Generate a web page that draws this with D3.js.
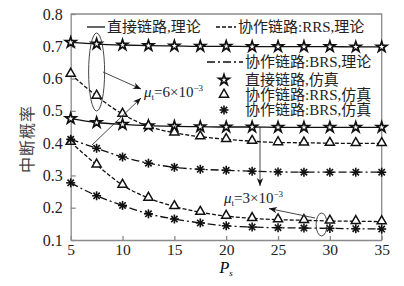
<!DOCTYPE html>
<html>
<head>
<meta charset="utf-8">
<script src="https://cdn.jsdelivr.net/npm/d3@7"></script>
<style>
  html, body { margin: 0; padding: 0; background: #fff; }
  svg, svg text { font-family: "Liberation Serif", "Times New Roman", "DejaVu Serif", "Noto Sans CJK SC", serif; }
</style>
</head>
<body>
<svg id="chart"></svg>
<script>
// 数据
const ps = [5, 7.5, 10, 12.5, 15, 17.5, 20, 22.5, 25, 27.5, 30, 32.5, 35];
const direct6 = [0.712, 0.707, 0.704, 0.702, 0.701, 0.700, 0.700, 0.699, 0.699, 0.699, 0.699, 0.698, 0.698];
const direct3 = [0.476, 0.464, 0.458, 0.454, 0.452, 0.451, 0.450, 0.450, 0.449, 0.449, 0.449, 0.449, 0.449];
const rrs6 = [0.614, 0.546, 0.490, 0.452, 0.432, 0.420, 0.412, 0.406, 0.402, 0.401, 0.400, 0.399, 0.399];
const brs6 = [0.412, 0.384, 0.357, 0.338, 0.325, 0.319, 0.316, 0.313, 0.311, 0.310, 0.310, 0.310, 0.310];
const rrs3 = [0.403, 0.333, 0.270, 0.230, 0.204, 0.186, 0.174, 0.167, 0.163, 0.161, 0.159, 0.158, 0.157];
const brs3 = [0.277, 0.237, 0.207, 0.181, 0.165, 0.153, 0.144, 0.140, 0.138, 0.137, 0.136, 0.135, 0.134];
const xTicks = [5, 10, 15, 20, 25, 30, 35];
const yTicks = [0.1, 0.2, 0.3, 0.4, 0.5, 0.6, 0.7, 0.8];

const width = 404, height = 286;
const marginLeft = 70.7, marginRight = 22.3, marginTop = 14, marginBottom = 46;
const font = '"Liberation Serif", "Times New Roman", "DejaVu Serif", "Noto Sans CJK SC", serif';

const x = d3.scaleLinear().domain([5, 35]).range([marginLeft, width - marginRight]);
const y = d3.scaleLinear().domain([0.1, 0.8]).range([height - marginBottom, marginTop]);

const svg = d3.select("#chart")
  .attr("width", width)
  .attr("height", height)
  .attr("viewBox", [0, 0, width, height]);

const axisColor = "#8a8a8a";

// 坐标轴
svg.append("g")
  .attr("transform", `translate(0,${height - marginBottom})`)
  .call(d3.axisBottom(x).tickValues(xTicks).tickFormat(d3.format("d")).tickSizeInner(-4).tickSizeOuter(0).tickPadding(4))
  .attr("font-family", font)
  .call(g => g.selectAll("line, path").attr("stroke", axisColor).attr("stroke-width", 1.3))
  .call(g => g.selectAll("text").attr("font-size", 15.5).attr("fill", "#222"));

svg.append("g")
  .attr("transform", `translate(${marginLeft},0)`)
  .call(d3.axisLeft(y).tickValues(yTicks).tickFormat(d3.format(".1f")).tickSizeInner(-5).tickSizeOuter(0).tickPadding(8))
  .attr("font-family", font)
  .call(g => g.selectAll("line, path").attr("stroke", axisColor).attr("stroke-width", 1.3))
  .call(g => g.selectAll("text").attr("font-size", 16).attr("fill", "#222"));

// 上边框和右边框
svg.append("path")
  .attr("d", `M${x(5)},${y(0.8)}H${x(35)}V${y(0.1)}`)
  .attr("fill", "none")
  .attr("stroke", axisColor)
  .attr("stroke-width", 1.3);

// 轴标题
svg.append("text")
  .attr("transform", `translate(33,${(y(0.1) + y(0.8)) / 2 + 12}) rotate(-90)`)
  .attr("text-anchor", "middle")
  .attr("font-size", 16)
  .attr("fill", "#444")
  .attr("letter-spacing", 1)
  .text("中断概率");

const pl = svg.append("text")
  .attr("x", (x(5) + x(35)) / 2)
  .attr("y", 273)
  .attr("text-anchor", "middle")
  .attr("font-size", 16)
  .attr("font-style", "italic");
pl.append("tspan").text("P");
pl.append("tspan").attr("font-size", 9).attr("dy", 3).text("s");

// 曲线
const dashSolid = null, dashRRS = "4,2", dashBRS = "8,3,2,3";
const series = [
  { v: direct6, dash: dashSolid, mark: "star" },
  { v: direct3, dash: dashSolid, mark: "star" },
  { v: rrs6, dash: dashRRS, mark: "tri" },
  { v: rrs3, dash: dashRRS, mark: "tri" },
  { v: brs6, dash: dashBRS, mark: "ast" },
  { v: brs3, dash: dashBRS, mark: "ast" }
];

const line = d3.line().x((d, i) => x(ps[i])).y(d => y(d)).curve(d3.curveMonotoneX);

svg.append("g")
  .selectAll("path")
  .data(series)
  .join("path")
  .attr("d", d => line(d.v))
  .attr("fill", "none")
  .attr("stroke", "#111")
  .attr("stroke-width", 1.3)
  .attr("stroke-dasharray", d => d.dash);

function drawMark(g, type) {
  if (type === "star") {
    g.append("path")
      .attr("d", d3.symbol(d3.symbolStar, 34)())
      .attr("fill", "#fff")
      .attr("stroke", "#111")
      .attr("stroke-width", 1.7);
  } else if (type === "tri") {
    g.append("path")
      .attr("d", d3.symbol(d3.symbolTriangle, 36)())
      .attr("transform", "translate(0,-0.5)")
      .attr("fill", "#fff")
      .attr("stroke", "#111")
      .attr("stroke-width", 1.5);
  } else {
    for (let a = 0; a < 180; a += 45) {
      const r = 4.5, t = a * Math.PI / 180;
      g.append("line")
        .attr("x1", -r * Math.cos(t)).attr("y1", -r * Math.sin(t))
        .attr("x2", r * Math.cos(t)).attr("y2", r * Math.sin(t))
        .attr("stroke", "#111")
        .attr("stroke-width", 1.6);
    }
  }
}

series.forEach(s => {
  svg.append("g")
    .selectAll("g")
    .data(s.v)
    .join("g")
    .attr("transform", (d, i) => `translate(${x(ps[i])},${y(d)})`)
    .each(function () { drawMark(d3.select(this), s.mark); });
});

// 图例
const legend = svg.append("g").attr("font-size", 15).attr("fill", "#222");
function legendLine(x1, x2, yy, dash) {
  legend.append("line")
    .attr("x1", x1).attr("x2", x2).attr("y1", yy).attr("y2", yy)
    .attr("stroke", "#111").attr("stroke-width", 1.3)
    .attr("stroke-dasharray", dash);
}
function legendText(xx, yy, t) {
  legend.append("text").attr("x", xx).attr("y", yy).attr("dy", "0.35em").text(t);
}
legendLine(87, 105, 27, dashSolid);
legendText(107, 27, "直接链路,理论");
legendLine(216, 236, 27, dashRRS);
legendText(238, 27, "协作链路:RRS,理论");
legendLine(207, 243, 62, dashBRS);
legendText(245, 62, "协作链路:BRS,理论");
[["star", 80, "直接链路,仿真"], ["tri", 95, "协作链路:RRS,仿真"], ["ast", 110, "协作链路:BRS,仿真"]].forEach(([m, yy, t]) => {
  const g = legend.append("g").attr("transform", `translate(224,${yy})`);
  drawMark(g, m);
  legendText(245, yy, t);
});

// 标注
svg.append("defs").append("marker")
  .attr("id", "arrow")
  .attr("viewBox", "0 0 10 10")
  .attr("refX", 10).attr("refY", 5)
  .attr("markerWidth", 8).attr("markerHeight", 8)
  .attr("markerUnits", "userSpaceOnUse")
  .attr("orient", "auto")
  .append("path")
  .attr("d", "M0,1L10,5L0,9L3,5Z")
  .attr("fill", "#111");

const ann = svg.append("g").attr("stroke", "#333").attr("stroke-width", 0.9).attr("fill", "none");
ann.append("ellipse").attr("cx", x(7.5)).attr("cy", 72).attr("rx", 8).attr("ry", 39);
ann.append("ellipse").attr("cx", x(29.2)).attr("cy", 224.5).attr("rx", 5.5).attr("ry", 11.5);
ann.append("line").attr("x1", 103).attr("y1", 72).attr("x2", 141).attr("y2", 89).attr("marker-end", "url(#arrow)");
ann.append("line").attr("x1", 92).attr("y1", 145).attr("x2", 141).attr("y2", 98).attr("marker-end", "url(#arrow)");
ann.append("line").attr("x1", 260).attr("y1", y(0.45)).attr("x2", 260).attr("y2", 186).attr("marker-end", "url(#arrow)");
ann.append("line").attr("x1", 315).attr("y1", 218).attr("x2", 269).attr("y2", 208.5).attr("marker-end", "url(#arrow)");

function muLabel(xx, yy, val) {
  const t = svg.append("text").attr("x", xx).attr("y", yy).attr("font-size", 15).attr("fill", "#222");
  t.append("tspan").attr("font-style", "italic").text("μ");
  t.append("tspan").attr("font-size", 9).attr("dy", 3).text("t");
  t.append("tspan").attr("dy", -3).text(`=${val}×10`);
  t.append("tspan").attr("font-size", 9).attr("dy", -6).text("−3");
}
muLabel(144, 97, 6);
muLabel(224, 203, 3);
</script>
</body>
</html>
